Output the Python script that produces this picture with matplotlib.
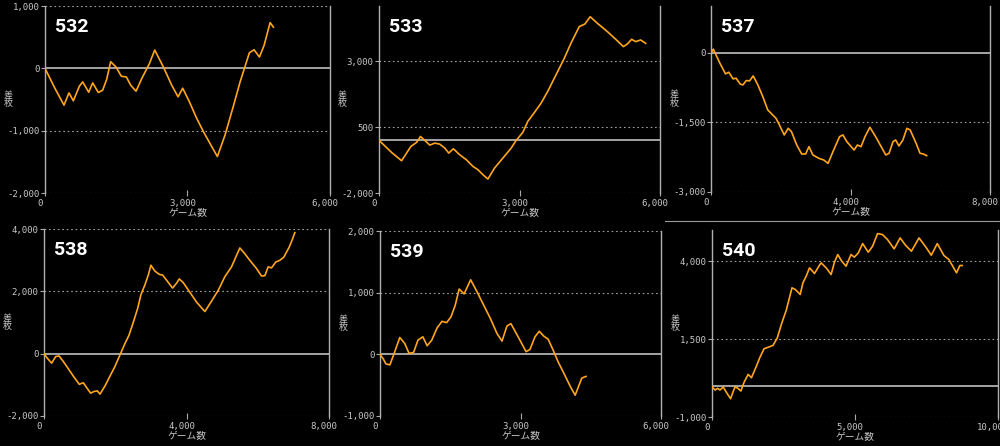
import numpy as np
import matplotlib.pyplot as plt
import matplotlib.transforms as mtransforms
from matplotlib.lines import Line2D

# data: game count vs coin difference for each machine
x532 = [0, 211, 400, 505, 597, 723, 793, 920, 1004, 1123, 1214, 1299, 1383, 1495, 1608, 1713, 1804, 1916,
        2036, 2197, 2310, 2492, 2668, 2801, 2899, 3040, 3194, 3335, 3510, 3629, 3791, 3966, 4107, 4212,
        4303, 4402, 4514, 4612, 4739, 4809]
y532 = [0, -324, -590, -394, -521, -287, -218, -383, -234, -388, -351, -176, 106, 21, -128, -138, -271, -367,
        -165, 74, 293, 21, -271, -457, -319, -537, -803, -1016, -1255, -1415, -1069, -606, -218, 32,
        250, 298, 181, 367, 734, 660]

x533 = [0, 269, 482, 681, 801, 886, 978, 1085, 1191, 1297, 1404, 1489, 1588, 1723, 1865, 2006, 2113, 2219,
        2325, 2467, 2645, 2822, 2928, 3070, 3176, 3318, 3460, 3601, 3779, 3956, 4098, 4275, 4396, 4509,
        4665, 4878, 5055, 5218, 5303, 5395, 5480, 5586, 5693]
y533 = [0, -460, -775, -232, -81, 146, -5, -182, -106, -144, -295, -485, -321, -548, -737, -990, -1116, -1306,
        -1470, -1053, -674, -295, -5, 298, 715, 1056, 1410, 1852, 2483, 3115, 3684, 4315, 4416, 4693,
        4441, 4126, 3836, 3558, 3659, 3836, 3747, 3810, 3684]

x537 = [0, 66, 255, 416, 511, 634, 719, 842, 917, 1012, 1106, 1210, 1343, 1485, 1627, 1721, 1863, 1986,
        2099, 2213, 2307, 2459, 2600, 2714, 2808, 2922, 3092, 3234, 3357, 3517, 3687, 3782, 3895, 4103,
        4198, 4302, 4416, 4557, 4747, 5011, 5106, 5219, 5295, 5389, 5503, 5616, 5711, 5881, 5994, 6089, 6183]
y537 = [-14, 72, -230, -460, -424, -567, -553, -682, -696, -603, -610, -503, -696, -948, -1235, -1307, -1414,
        -1594, -1773, -1630, -1702, -1989, -2183, -2183, -2025, -2204, -2276, -2312, -2384, -2097, -1809,
        -1773, -1917, -2097, -1989, -2025, -1809, -1608, -1845, -2204, -2168, -1917, -1881, -2010, -1881,
        -1630, -1666, -1953, -2168, -2183, -2219]

x538 = [0, 93, 215, 327, 421, 542, 682, 823, 991, 1103, 1197, 1309, 1403, 1496, 1571, 1711, 1851, 1992,
        2132, 2272, 2384, 2506, 2627, 2721, 2833, 2927, 3001, 3113, 3235, 3329, 3469, 3609, 3721, 3796,
        3908, 4095, 4282, 4516, 4703, 4890, 5077, 5264, 5404, 5497, 5638, 5778, 5965, 6105, 6199, 6292,
        6386, 6507, 6619, 6732, 6881, 6975, 7041]
y538 = [0, -147, -304, -94, -73, -251, -482, -722, -984, -932, -1089, -1267, -1214, -1194, -1298, -1037,
        -722, -408, -42, 325, 586, 1005, 1445, 1895, 2209, 2523, 2837, 2649, 2544, 2523, 2314, 2104, 2261,
        2398, 2282, 1968, 1654, 1351, 1686, 2031, 2471, 2785, 3152, 3392, 3204, 2994, 2733, 2492, 2502,
        2785, 2753, 2942, 2994, 3099, 3413, 3675, 3884]

x539 = [0, 70, 127, 211, 303, 422, 528, 620, 718, 810, 915, 1007, 1105, 1218, 1324, 1422, 1514, 1605,
        1690, 1795, 1936, 2077, 2218, 2359, 2499, 2605, 2711, 2795, 2957, 3119, 3203, 3309, 3400, 3499,
        3590, 3696, 3801, 3942, 4062, 4167, 4308, 4399]
y539 = [0, -75, -155, -171, 16, 273, 177, 16, 32, 230, 284, 139, 230, 428, 535, 514, 605, 792, 1059, 979,
        1209, 1006, 792, 578, 337, 214, 460, 498, 273, 43, 80, 284, 374, 294, 246, 70, -118, -332, -519,
        -663, -385, -358]

x540 = [0, 104, 197, 278, 394, 510, 649, 800, 893, 1009, 1125, 1264, 1380, 1554, 1670, 1821, 1983, 2134,
        2285, 2424, 2598, 2796, 2911, 3085, 3178, 3294, 3410, 3584, 3735, 3817, 3991, 4165, 4281, 4397,
        4536, 4687, 4861, 4977, 5116, 5267, 5464, 5615, 5789, 5963, 6137, 6369, 6578, 6775, 6972, 7239,
        7471, 7668, 7877, 8109, 8283, 8549, 8666, 8747]
y540 = [-28, -134, -81, -134, -38, -220, -412, -38, -70, -166, 122, 367, 261, 635, 902, 1190, 1244, 1297,
        1543, 1970, 2430, 3145, 3092, 2932, 3305, 3519, 3786, 3604, 3839, 3946, 3786, 3572, 3967, 4213,
        4000, 3839, 4213, 4128, 4266, 4565, 4288, 4480, 4885, 4853, 4693, 4395, 4746, 4501, 4320, 4746,
        4459, 4192, 4565, 4181, 4053, 3626, 3861, 3861]

names = ["532", "533", "537", "538", "539", "540"]
xs = [x532, x533, x537, x538, x539, x540]
ys = [y532, y533, y537, y538, y539, y540]
xticks = [[0, 3000, 6000], [0, 3000, 6000], [0, 4000, 8000],
          [0, 4000, 8000], [0, 3000, 6000], [0, 5000, 10000]]
yticks = [[-2000, -1000, 0, 1000], [-2000, 500, 3000], [-3000, -1500, 0],
          [-2000, 0, 2000, 4000], [-1000, 0, 1000, 2000], [-1000, 1500, 4000]]
ylims = [(-2000, 1000), (-2000, 5100), (-3000, 1000),
         (-2000, 4000), (-1000, 2000), (-1000, 5000)]

# axes boxes in pixels: left, top, right, bottom
W, H = 1000, 446
boxes = [(45, 6, 330, 193), (379, 6, 660, 193), (711, 6, 990, 192),
         (44, 229, 329, 416), (380, 231, 661, 416), (712, 230, 998, 417)]

fig = plt.figure(figsize=(10, 4.46), dpi=100, facecolor="black")

cjk = ["Noto Sans CJK JP", "DejaVu Sans"]
tick_col = "#c8c8c8"
line_col = "#ffa51e"
shift = mtransforms.ScaledTranslation(-5 / 100, 0, fig.dpi_scale_trans)

for i in range(6):
    l, t, r, b = boxes[i]
    ax = fig.add_axes([l / W, 1 - b / H, (r - l) / W, (b - t) / H])
    ax.set_facecolor("black")
    ax.plot(xs[i], ys[i], color=line_col, lw=1.2, zorder=3, clip_on=True)
    ax.set_xlim(xticks[i][0], xticks[i][-1])
    ax.set_ylim(*ylims[i])

    # dotted grid, solid zero line
    for v in yticks[i]:
        if v != 0:
            ax.axhline(v, color="#a0a0a0", lw=0.8, ls=(0, (1.5, 2.5)), zorder=1)
    ax.axhline(0, color="#c0c0c0", lw=1.2, zorder=2)

    ax.set_xticks(xticks[i])
    ax.set_xticklabels([f"{v:,}" for v in xticks[i]])
    ax.set_yticks(yticks[i])
    ax.set_yticklabels([f"{v:,}" for v in yticks[i]])
    ax.tick_params(axis="y", colors="#aaaaaa", labelcolor=tick_col, length=3, width=0.8, pad=1,
                   labelsize=6.5)
    ax.tick_params(axis="x", colors="#aaaaaa", labelcolor=tick_col, direction="inout", length=5,
                   width=0.8, pad=2, labelsize=6.5)
    for lab in ax.get_xticklabels():
        lab.set_family("DejaVu Sans Mono")
        lab.set_transform(lab.get_transform() + shift)
    for lab in ax.get_yticklabels():
        lab.set_family("DejaVu Sans Mono")

    for s in ["top", "bottom"]:
        ax.spines[s].set_visible(False)
    for s in ["left", "right"]:
        ax.spines[s].set_color("#b0b0b0")
        ax.spines[s].set_linewidth(1.0)

    ax.set_xlabel("ゲーム数", color=tick_col, fontsize=7, family=cjk, labelpad=0)
    ax.set_ylabel("差\n枚", color=tick_col, fontsize=6.5, family=cjk, rotation=0,
                  linespacing=0.95, va="center", ha="center")
    ax.yaxis.set_label_coords(-37 / (r - l), 0.5)

    ax.text(10 / (r - l), 1 - 21 / (b - t), names[i], transform=ax.transAxes, color="white",
            fontsize=14, fontweight="bold", family="Roboto", va="center", ha="left")

# thin separator between the pasted screenshots
fig.add_artist(Line2D([665 / W, 1], [1 - 221 / H] * 2, color="#9a9a9a", lw=0.8))

fig.savefig("out.png", dpi=100, facecolor="black")
